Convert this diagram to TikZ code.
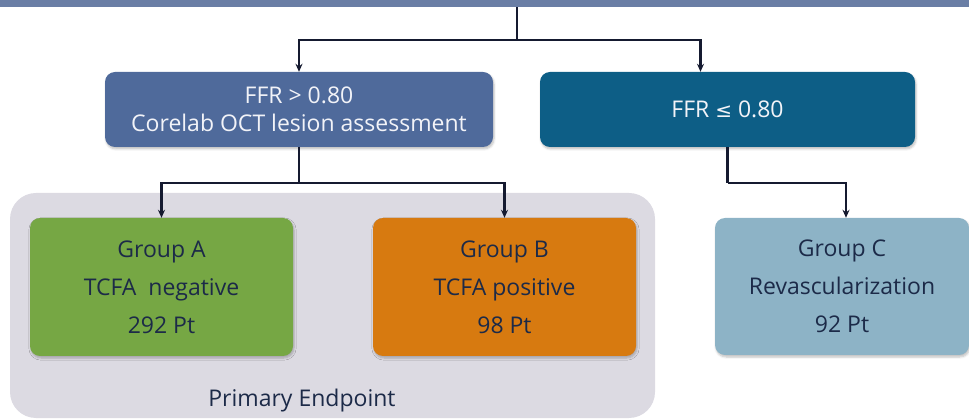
\documentclass[tikz,border=0pt]{standalone}
\usepackage{fontspec}
\setmainfont{Open Sans}
\usetikzlibrary{arrows.meta,shadows.blur}

\definecolor{bannerblue}{HTML}{6A7EA5}
\definecolor{slateblue}{HTML}{4F6A9B}
\definecolor{deepteal}{HTML}{0D5E86}
\definecolor{grpgreen}{HTML}{76A744}
\definecolor{grporange}{HTML}{D77A10}
\definecolor{grpblue}{HTML}{8DB3C6}
\definecolor{panelgray}{HTML}{DCDAE2}
\definecolor{navytext}{HTML}{1C2A48}
\definecolor{lightText}{HTML}{F2F3F8}
\definecolor{linecol}{HTML}{151A30}

\tikzset{
  box/.style={rectangle, rounded corners=10pt, inner sep=0pt, align=center,
    blur shadow={shadow xshift=1pt, shadow yshift=-2pt, shadow blur steps=5, shadow opacity=25}},
  topbox/.style={box, text=lightText, minimum height=75pt,
    font=\fontsize{23}{28.5}\selectfont},
  groupbox/.style={box, text=navytext, minimum width=263pt, minimum height=138pt,
    font=\fontsize{23}{38}\selectfont},
  conn/.style={draw=linecol, line width=2.5pt},
  arr/.style={conn, -{Stealth[length=8pt,width=7pt]}},
}

\begin{document}
\begin{tikzpicture}[x=1pt,y=-1pt]
  \useasboundingbox (0,0) rectangle (969,419);

  % banner strip along the top edge
  \node[rectangle, fill=bannerblue, inner sep=0pt, minimum width=969pt,
        minimum height=7pt] (banner) at (484.5,3.5) {};

  % shaded area holding the two primary-endpoint groups
  \node[rectangle, rounded corners=26pt, fill=panelgray, inner sep=0pt,
        minimum width=645pt, minimum height=225pt] (panel) at (332.5,305.5) {};
  \node[text=navytext, font=\fontsize{23}{26}\selectfont] (endpoint) at (302,401) {Primary Endpoint};

  % FFR decision boxes
  \node[topbox, fill=slateblue, minimum width=388pt] (ffrhi) at (299,109.5)
    {FFR > 0.80\\Corelab OCT lesion assessment};
  \node[topbox, fill=deepteal, minimum width=375pt] (ffrlo) at (727.5,109.5)
    {FFR \fontspec{DejaVu Sans}\fontsize{20}{28.5}\selectfont≤\fontspec{Open Sans}\fontsize{23}{28.5}\selectfont{} 0.80};

  % patient groups
  \node[groupbox, fill=grpgreen] (grpA) at (161.5,287) {Group A\\TCFA~~negative\\292 Pt};
  \node[groupbox, fill=grporange] (grpB) at (504.5,287) {Group B\\TCFA positive\\98 Pt};
  \node[groupbox, fill=grpblue, minimum width=254pt, minimum height=137pt] (grpC) at (842,286.5)
    {Group C\\Revascularization\\92 Pt};

  % connectors
  \coordinate (split) at (517,40);
  \draw[conn] (banner.south -| split) -- (split);
  \draw[arr] (split) -| (ffrhi.north);
  \draw[arr] (split) -| ([xshift=-27pt]ffrlo.north);

  \coordinate (splitL) at (299,183);
  \draw[conn] (ffrhi.south) -- (splitL);
  \draw[arr] (splitL) -| (grpA.north);
  \draw[arr] (splitL) -| (grpB.north);

  \coordinate (splitR) at (727.5,183);
  \draw[conn] (ffrlo.south) -- (splitR);
  \draw[arr] (splitR) -| ([xshift=4pt]grpC.north);
\end{tikzpicture}
\end{document}
